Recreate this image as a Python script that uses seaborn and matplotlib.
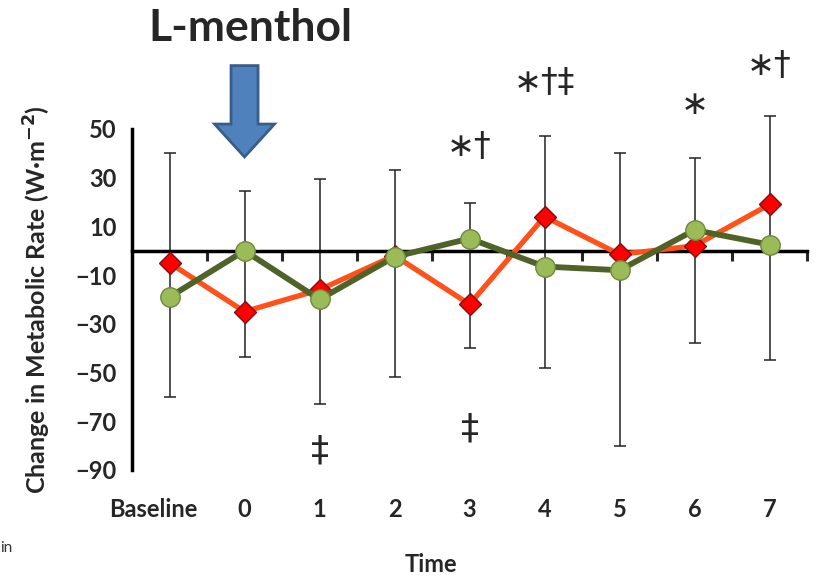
import numpy as np
import pandas as pd
import matplotlib
matplotlib.use("Agg")
import matplotlib.pyplot as plt
import matplotlib.transforms as mtransforms
import seaborn as sns

sns.set_style("white")
plt.rcParams['font.family'] = ['Lato', 'DejaVu Sans']

categories = ['Baseline', '0', '1', '2', '3', '4', '5', '6', '7']
red_values = [-5, -25, -16, -2, -22, 14, -1.5, 2, 19]
green_values = [-19, 0, -20, -2.5, 5, -6.5, -8, 8.5, 2.5]
err_low = [-60, -43.5, -63, -52, -40, -48, -80, -38, -45]
err_high = [40, 24.5, 29.5, 33, 19.5, 47, 40, 38, 55.5]
# significance marks: (category index, label, y value)
marks_above = [(4, '∗†', 39), (5, '∗†‡', 65), (7, '∗', 56), (8, '∗†', 72)]
marks_below = [(2, '‡', -82), (4, '‡', -73)]

pos = np.arange(len(categories))
df = pd.DataFrame({'pos': pos, 'red': red_values, 'green': green_values})

fig = plt.figure(figsize=(8.17, 5.80), dpi=100)
ax = fig.add_axes([0.1616, 0.1897, 0.8262, 0.588])

# error bars
low = np.array(err_low)
high = np.array(err_high)
mid = (low + high) / 2
eb = ax.errorbar(pos, mid, yerr=(high - low) / 2, fmt='none', ecolor='#222222',
                 elinewidth=1.1, capsize=4, capthick=1.1, zorder=2)
for art in list(eb.lines[1]) + list(eb.lines[2]):
    art.set_clip_on(False)

sns.lineplot(data=df, x='pos', y='red', ax=ax, color='#FF5119', linewidth=3.8,
             marker='D', markersize=11, markerfacecolor='#FF0000',
             markeredgecolor='#7F1010', markeredgewidth=1, sort=False, zorder=4)
sns.lineplot(data=df, x='pos', y='green', ax=ax, color='#4F6228', linewidth=4.2,
             marker='o', markersize=14, markerfacecolor='#9BBB59',
             markeredgecolor='#6E8A3A', markeredgewidth=1, sort=False, zorder=5)

ax.set_xlim(-0.5, 8.5)
ax.set_ylim(-90, 50)
ax.set_yticks(np.arange(-90, 51, 20))
ax.tick_params(axis='y', direction='out', length=8, width=2.2, labelsize=17, pad=3)
for t in ax.get_yticklabels():
    t.set_fontweight('bold')

for s in ['top', 'right']:
    ax.spines[s].set_visible(False)
ax.spines['left'].set_linewidth(2.5)
ax.spines['left'].set_color('black')
ax.spines['bottom'].set_position(('data', 0))
ax.spines['bottom'].set_linewidth(2.5)
ax.spines['bottom'].set_color('black')
ax.spines['bottom'].set_zorder(3)
ax.set_xticks(pos, labels=[''] * len(pos))
ax.set_xticks(np.arange(0.5, 9, 1), minor=True)
ax.tick_params(axis='x', which='major', length=0)
ax.tick_params(axis='x', which='minor', direction='out', length=7, width=2.2, bottom=True)

sec = ax.secondary_xaxis('bottom')
sec.set_xticks(pos, labels=categories)
sec.spines['bottom'].set_visible(False)
sec.tick_params(length=0, pad=20, labelsize=17)
for t in sec.get_xticklabels():
    t.set_fontweight('bold')
# nudge "Baseline" left like the original
lab0 = sec.get_xticklabels()[0]
lab0.set_transform(lab0.get_transform() + mtransforms.ScaledTranslation(-16 / 100, 0, fig.dpi_scale_trans))

ax.set_xlabel('')
ax.set_ylabel('Change in Metabolic Rate (W·m$^{\\mathbf{-2}}$)', fontsize=18,
              fontweight='bold', labelpad=16)
fig.text(0.527, 0.026, 'Time', fontsize=17, fontweight='bold', ha='center', va='center')
fig.text(0.0, 0.055, 'in', fontsize=11, ha='left', va='center', color='#333333')
fig.text(0.306, 0.952, 'L-menthol', fontsize=32, fontweight='bold', ha='center', va='center')

for i, s, y in marks_above:
    ax.text(i, y, s, fontsize=24, ha='center', va='baseline', clip_on=False,
            family=['DejaVu Sans'])
for i, s, y in marks_below:
    ax.text(i, y, s, fontsize=26, ha='center', va='center', clip_on=False,
            family=['DejaVu Sans'])

ax.arrow(1, 76, 0, -24, width=0.36, head_width=0.8, head_length=13.5,
         length_includes_head=False, facecolor='#4F81BD', edgecolor='#385D8A',
         linewidth=2, clip_on=False, zorder=6)

ax.set_facecolor('white')
fig.savefig('out.png', dpi=100, facecolor='white')
